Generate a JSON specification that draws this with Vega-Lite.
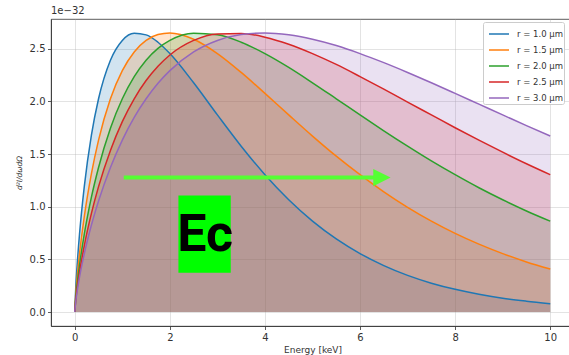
{
  "$schema": "https://vega.github.io/schema/vega-lite/v6.json",
  "width": 523,
  "height": 307,
  "autosize": {"type": "none"},
  "padding": {"left": 51, "top": 19, "right": 0, "bottom": 29},
  "background": "white",
  "title": {"text": "1e\u221232", "anchor": "start", "frame": "group", "fontSize": 10, "fontWeight": "normal", "font": "DejaVu Sans", "color": "#333333", "offset": 3},
  "config": {
    "view": {"stroke": "#333333", "strokeWidth": 0.8},
    "axis": {"labelFont": "DejaVu Sans", "labelFontSize": 10, "labelColor": "#333333", "titleFont": "DejaVu Sans", "titleFontSize": 9, "titleFontWeight": "normal", "titleColor": "#333333", "tickColor": "#333333", "tickSize": 3.5, "tickWidth": 0.8, "domainColor": "#333333", "domainWidth": 0.8, "gridColor": "#b0b0b0", "gridOpacity": 0.45, "gridWidth": 0.8, "labelPadding": 2.5, "zindex": 1},
    "legend": {"title": null, "orient": "none", "legendX": 432, "legendY": 3, "symbolType": "stroke", "symbolSize": 400, "symbolStrokeWidth": 1.5, "symbolOpacity": 1, "symbolOffset": 4, "labelFont": "DejaVu Sans", "labelFontSize": 8.5, "labelColor": "#333333", "padding": 1, "fillColor": "white", "strokeColor": "#cccccc", "cornerRadius": 2, "rowPadding": -6, "labelOffset": 7}
  },
  "data": {"values": [
    {"r":"r = 1.0 μm","x":0,"y":0},{"r":"r = 1.0 μm","x":0.02,"y":0.225},{"r":"r = 1.0 μm","x":0.05,"y":0.447},{"r":"r = 1.0 μm","x":0.1,"y":0.740},{"r":"r = 1.0 μm","x":0.2,"y":1.191},{"r":"r = 1.0 μm","x":0.35,"y":1.680},{"r":"r = 1.0 μm","x":0.5,"y":2.025},{"r":"r = 1.0 μm","x":0.75,"y":2.391},{"r":"r = 1.0 μm","x":1,"y":2.579},{"r":"r = 1.0 μm","x":1.25,"y":2.647},{"r":"r = 1.0 μm","x":1.5,"y":2.632},{"r":"r = 1.0 μm","x":1.75,"y":2.562},{"r":"r = 1.0 μm","x":2,"y":2.454},{"r":"r = 1.0 μm","x":2.5,"y":2.177},{"r":"r = 1.0 μm","x":3,"y":1.872},{"r":"r = 1.0 μm","x":3.5,"y":1.575},{"r":"r = 1.0 μm","x":4,"y":1.304},{"r":"r = 1.0 μm","x":4.5,"y":1.066},{"r":"r = 1.0 μm","x":5,"y":0.863},{"r":"r = 1.0 μm","x":5.5,"y":0.694},{"r":"r = 1.0 μm","x":6,"y":0.555},{"r":"r = 1.0 μm","x":6.5,"y":0.441},{"r":"r = 1.0 μm","x":7,"y":0.348},{"r":"r = 1.0 μm","x":7.5,"y":0.274},{"r":"r = 1.0 μm","x":8,"y":0.2155},{"r":"r = 1.0 μm","x":8.5,"y":0.1685},{"r":"r = 1.0 μm","x":9,"y":0.131},{"r":"r = 1.0 μm","x":9.5,"y":0.103},{"r":"r = 1.0 μm","x":10,"y":0.0795},
    {"r":"r = 1.5 μm","x":0,"y":0},{"r":"r = 1.5 μm","x":0.02,"y":0.165},{"r":"r = 1.5 μm","x":0.05,"y":0.331},{"r":"r = 1.5 μm","x":0.1,"y":0.553},{"r":"r = 1.5 μm","x":0.2,"y":0.906},{"r":"r = 1.5 μm","x":0.35,"y":1.315},{"r":"r = 1.5 μm","x":0.5,"y":1.633},{"r":"r = 1.5 μm","x":0.75,"y":2.025},{"r":"r = 1.5 μm","x":1,"y":2.292},{"r":"r = 1.5 μm","x":1.25,"y":2.470},{"r":"r = 1.5 μm","x":1.5,"y":2.579},{"r":"r = 1.5 μm","x":1.75,"y":2.635},{"r":"r = 1.5 μm","x":2,"y":2.650},{"r":"r = 1.5 μm","x":2.5,"y":2.590},{"r":"r = 1.5 μm","x":3,"y":2.454},{"r":"r = 1.5 μm","x":3.5,"y":2.275},{"r":"r = 1.5 μm","x":4,"y":2.076},{"r":"r = 1.5 μm","x":4.5,"y":1.872},{"r":"r = 1.5 μm","x":5,"y":1.671},{"r":"r = 1.5 μm","x":5.5,"y":1.480},{"r":"r = 1.5 μm","x":6,"y":1.304},{"r":"r = 1.5 μm","x":6.5,"y":1.141},{"r":"r = 1.5 μm","x":7,"y":0.994},{"r":"r = 1.5 μm","x":7.5,"y":0.863},{"r":"r = 1.5 μm","x":8,"y":0.747},{"r":"r = 1.5 μm","x":8.5,"y":0.645},{"r":"r = 1.5 μm","x":9,"y":0.555},{"r":"r = 1.5 μm","x":9.5,"y":0.476},{"r":"r = 1.5 μm","x":10,"y":0.408},
    {"r":"r = 2.0 μm","x":0,"y":0},{"r":"r = 2.0 μm","x":0.02,"y":0.132},{"r":"r = 2.0 μm","x":0.05,"y":0.266},{"r":"r = 2.0 μm","x":0.1,"y":0.447},{"r":"r = 2.0 μm","x":0.2,"y":0.740},{"r":"r = 2.0 μm","x":0.35,"y":1.091},{"r":"r = 2.0 μm","x":0.5,"y":1.373},{"r":"r = 2.0 μm","x":0.75,"y":1.745},{"r":"r = 2.0 μm","x":1,"y":2.025},{"r":"r = 2.0 μm","x":1.25,"y":2.235},{"r":"r = 2.0 μm","x":1.5,"y":2.391},{"r":"r = 2.0 μm","x":1.75,"y":2.503},{"r":"r = 2.0 μm","x":2,"y":2.579},{"r":"r = 2.0 μm","x":2.5,"y":2.647},{"r":"r = 2.0 μm","x":3,"y":2.632},{"r":"r = 2.0 μm","x":3.5,"y":2.562},{"r":"r = 2.0 μm","x":4,"y":2.454},{"r":"r = 2.0 μm","x":4.5,"y":2.323},{"r":"r = 2.0 μm","x":5,"y":2.177},{"r":"r = 2.0 μm","x":5.5,"y":2.025},{"r":"r = 2.0 μm","x":6,"y":1.872},{"r":"r = 2.0 μm","x":6.5,"y":1.721},{"r":"r = 2.0 μm","x":7,"y":1.575},{"r":"r = 2.0 μm","x":7.5,"y":1.435},{"r":"r = 2.0 μm","x":8,"y":1.304},{"r":"r = 2.0 μm","x":8.5,"y":1.180},{"r":"r = 2.0 μm","x":9,"y":1.066},{"r":"r = 2.0 μm","x":9.5,"y":0.960},{"r":"r = 2.0 μm","x":10,"y":0.863},
    {"r":"r = 2.5 μm","x":0,"y":0},{"r":"r = 2.5 μm","x":0.02,"y":0.111},{"r":"r = 2.5 μm","x":0.05,"y":0.225},{"r":"r = 2.5 μm","x":0.1,"y":0.378},{"r":"r = 2.5 μm","x":0.2,"y":0.631},{"r":"r = 2.5 μm","x":0.35,"y":0.937},{"r":"r = 2.5 μm","x":0.5,"y":1.191},{"r":"r = 2.5 μm","x":0.75,"y":1.535},{"r":"r = 2.5 μm","x":1,"y":1.808},{"r":"r = 2.5 μm","x":1.25,"y":2.025},{"r":"r = 2.5 μm","x":1.5,"y":2.198},{"r":"r = 2.5 μm","x":1.75,"y":2.334},{"r":"r = 2.5 μm","x":2,"y":2.441},{"r":"r = 2.5 μm","x":2.5,"y":2.579},{"r":"r = 2.5 μm","x":3,"y":2.641},{"r":"r = 2.5 μm","x":3.5,"y":2.646},{"r":"r = 2.5 μm","x":4,"y":2.610},{"r":"r = 2.5 μm","x":4.5,"y":2.543},{"r":"r = 2.5 μm","x":5,"y":2.454},{"r":"r = 2.5 μm","x":5.5,"y":2.351},{"r":"r = 2.5 μm","x":6,"y":2.236},{"r":"r = 2.5 μm","x":6.5,"y":2.117},{"r":"r = 2.5 μm","x":7,"y":1.994},{"r":"r = 2.5 μm","x":7.5,"y":1.872},{"r":"r = 2.5 μm","x":8,"y":1.750},{"r":"r = 2.5 μm","x":8.5,"y":1.632},{"r":"r = 2.5 μm","x":9,"y":1.518},{"r":"r = 2.5 μm","x":9.5,"y":1.408},{"r":"r = 2.5 μm","x":10,"y":1.304},
    {"r":"r = 3.0 μm","x":0,"y":0},{"r":"r = 3.0 μm","x":0.02,"y":0.097},{"r":"r = 3.0 μm","x":0.05,"y":0.195},{"r":"r = 3.0 μm","x":0.1,"y":0.331},{"r":"r = 3.0 μm","x":0.2,"y":0.553},{"r":"r = 3.0 μm","x":0.35,"y":0.826},{"r":"r = 3.0 μm","x":0.5,"y":1.055},{"r":"r = 3.0 μm","x":0.75,"y":1.373},{"r":"r = 3.0 μm","x":1,"y":1.633},{"r":"r = 3.0 μm","x":1.25,"y":1.848},{"r":"r = 3.0 μm","x":1.5,"y":2.025},{"r":"r = 3.0 μm","x":1.75,"y":2.172},{"r":"r = 3.0 μm","x":2,"y":2.292},{"r":"r = 3.0 μm","x":2.5,"y":2.470},{"r":"r = 3.0 μm","x":3,"y":2.579},{"r":"r = 3.0 μm","x":3.5,"y":2.635},{"r":"r = 3.0 μm","x":4,"y":2.650},{"r":"r = 3.0 μm","x":4.5,"y":2.632},{"r":"r = 3.0 μm","x":5,"y":2.590},{"r":"r = 3.0 μm","x":5.5,"y":2.530},{"r":"r = 3.0 μm","x":6,"y":2.454},{"r":"r = 3.0 μm","x":6.5,"y":2.368},{"r":"r = 3.0 μm","x":7,"y":2.275},{"r":"r = 3.0 μm","x":7.5,"y":2.177},{"r":"r = 3.0 μm","x":8,"y":2.076},{"r":"r = 3.0 μm","x":8.5,"y":1.974},{"r":"r = 3.0 μm","x":9,"y":1.872},{"r":"r = 3.0 μm","x":9.5,"y":1.770},{"r":"r = 3.0 μm","x":10,"y":1.671}
  ]},
  "encoding": {
    "x": {"field": "x", "type": "quantitative", "scale": {"domain": [-0.5, 10.5], "nice": false, "zero": false},
      "axis": {"title": "Energy [keV]", "values": [0, 2, 4, 6, 8, 10], "format": "d", "titlePadding": 3}},
    "y": {"field": "y", "type": "quantitative", "scale": {"domain": [-0.1325, 2.7825], "nice": false, "zero": false},
      "axis": {"title": "d²I/dωdΩ", "values": [0, 0.5, 1, 1.5, 2, 2.5], "format": ".1f", "titlePadding": 6, "titleFontSize": 7.5, "titleFontStyle": "italic"}}
  },
  "layer": [
    {
      "mark": {"type": "area", "fillOpacity": 0.2, "interpolate": "monotone"},
      "encoding": {
        "y": {"field": "y", "type": "quantitative", "stack": null},
        "y2": {"datum": 0},
        "color": {"field": "r", "type": "nominal",
          "scale": {"domain": ["r = 1.0 μm", "r = 1.5 μm", "r = 2.0 μm", "r = 2.5 μm", "r = 3.0 μm"], "range": ["#1f77b4", "#ff7f0e", "#2ca02c", "#d62728", "#9467bd"]}}
      }
    },
    {
      "mark": {"type": "line", "strokeWidth": 1.5, "interpolate": "monotone"},
      "encoding": {
        "color": {"field": "r", "type": "nominal"}
      }
    },
    {
      "data": {"values": [{"x": 1.03, "x2": 6.32, "y": 1.277}]},
      "mark": {"type": "rule", "color": "#55ff33", "strokeWidth": 4},
      "encoding": {"x": {"field": "x", "type": "quantitative"}, "x2": {"field": "x2"}, "y": {"field": "y", "type": "quantitative"}}
    },
    {
      "data": {"values": [{"x": 6.46, "y": 1.277}]},
      "mark": {"type": "point", "shape": "M-1,-1L1,0L-1,1Z", "filled": true, "color": "#55ff33", "opacity": 1, "size": 300},
      "encoding": {"x": {"field": "x", "type": "quantitative"}, "y": {"field": "y", "type": "quantitative"}}
    },
    {
      "data": {"values": [{"x": 2.18, "x2": 3.28, "y": 1.107, "y2": 0.372}]},
      "mark": {"type": "rect", "color": "#00ff00", "opacity": 1},
      "encoding": {"x": {"field": "x", "type": "quantitative"}, "x2": {"field": "x2"}, "y": {"field": "y", "type": "quantitative"}, "y2": {"field": "y2"}}
    },
    {
      "data": {"values": [{"x": 2.74, "y": 0.74, "label": "Ec"}]},
      "mark": {"type": "text", "font": "Roboto", "fontWeight": "bold", "fontSize": 52, "color": "black", "align": "center", "baseline": "middle", "dy": 1},
      "encoding": {"x": {"field": "x", "type": "quantitative"}, "y": {"field": "y", "type": "quantitative"}, "text": {"field": "label"}}
    }
  ]
}
